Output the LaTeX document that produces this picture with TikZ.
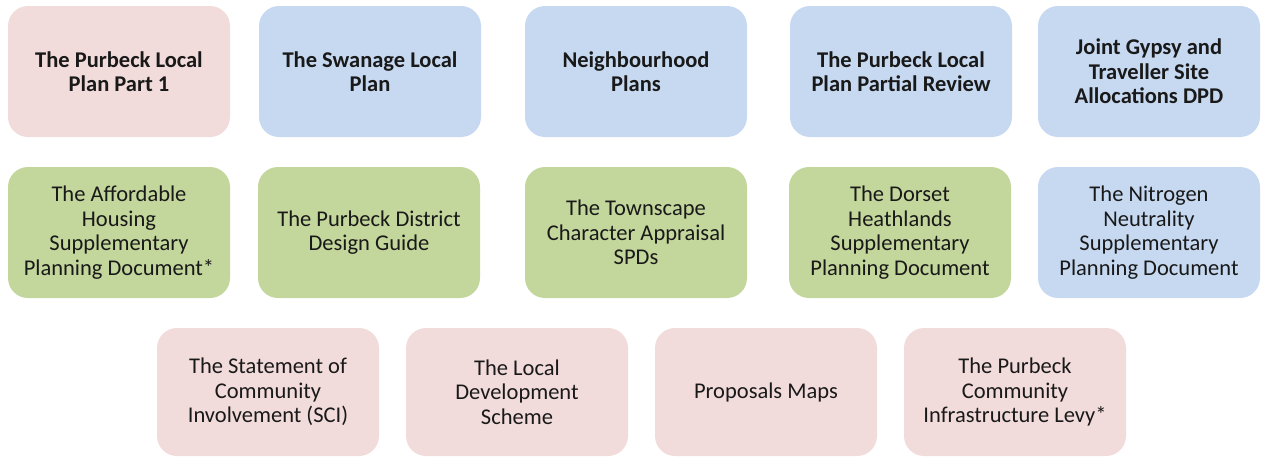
\documentclass[tikz,border=0pt]{standalone}
\usepackage{fontspec}
\setmainfont{Carlito}
\usetikzlibrary{positioning}

\definecolor{planpink}{HTML}{F2DCDB}
\definecolor{planblue}{HTML}{C6D9F1}
\definecolor{plangreen}{HTML}{C3D69B}

\begin{document}
\begin{tikzpicture}[
    x=1pt, y=-1pt,
    font=\fontsize{22.5}{24.5}\selectfont,
    box/.style={rectangle, draw=none, rounded corners=20pt, minimum width=222pt, minimum height=131pt, inner sep=0pt, align=center, text=black!90},
    head/.style={box, font=\fontsize{22.5}{24.5}\selectfont\bfseries},
    lowbox/.style={box, minimum height=128pt}
]
\useasboundingbox (0,0) rectangle (1261,456);

% top row: local plans
\node[head, fill=planpink] (partone) at (119,71.5) {The Purbeck Local\\Plan Part 1};
\node[head, fill=planblue] (swanage) at (370,71.5) {The Swanage Local\\Plan};
\node[head, fill=planblue] (neighbour) at (636,71.5) {Neighbourhood\\Plans};
\node[head, fill=planblue] (review) at (901,71.5) {The Purbeck Local\\Plan Partial Review};
\node[head, fill=planblue] (gypsy) at (1149,71.5) {Joint Gypsy and\\Traveller Site\\Allocations DPD};

% middle row: guidance
\node[box, fill=plangreen] (housing) at (119,232.5) {The Affordable\\Housing\\Supplementary\\Planning Document*};
\node[box, fill=plangreen] (design) at (369,232.5) {The Purbeck District\\Design Guide};
\node[box, fill=plangreen] (townscape) at (636,232.5) {The Townscape\\Character Appraisal\\SPDs};
\node[box, fill=plangreen] (heath) at (900,232.5) {The Dorset\\Heathlands\\Supplementary\\Planning Document};
\node[box, fill=planblue] (nitrogen) at (1149,232.5) {The Nitrogen\\Neutrality\\Supplementary\\Planning Document};

% bottom row
\node[lowbox, fill=planpink] (sci) at (268,392) {The Statement of\\Community\\Involvement (SCI)};
\node[lowbox, fill=planpink] (lds) at (517,392) {The Local\\Development\\Scheme};
\node[lowbox, fill=planpink] (maps) at (766,392) {Proposals Maps};
\node[lowbox, fill=planpink] (levy) at (1015,392) {The Purbeck\\Community\\Infrastructure Levy*};

\end{tikzpicture}
\end{document}
